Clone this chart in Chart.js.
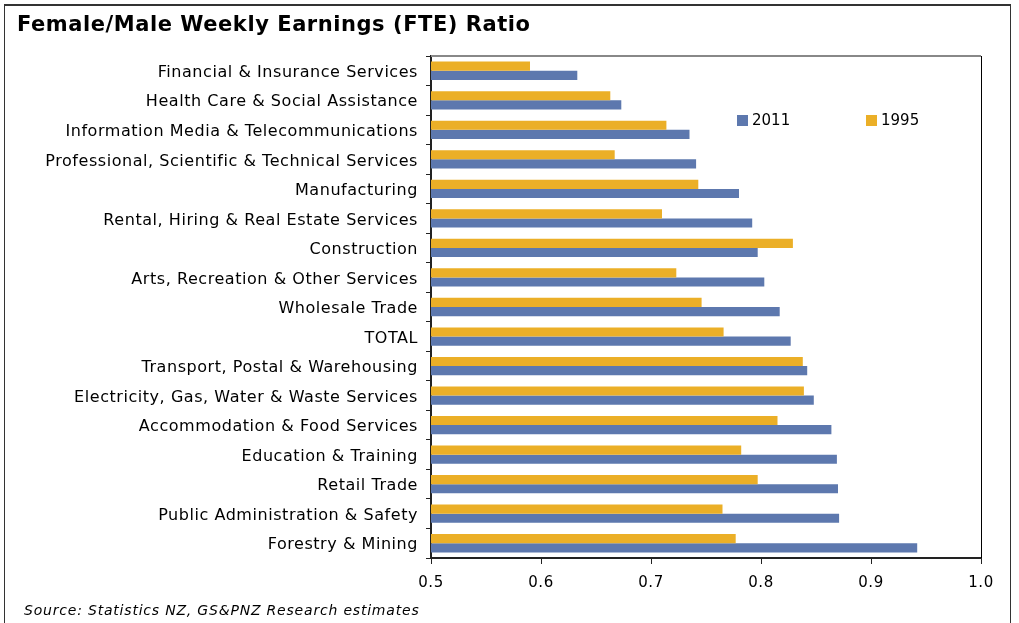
<!DOCTYPE html>
<html>
<head>
<meta charset="utf-8">
<script src="https://cdn.jsdelivr.net/npm/chart.js@4.4.1/dist/chart.umd.min.js"></script>
<style>
  html, body { margin: 0; padding: 0; background: #fff; }
  #wrap { position: relative; width: 1019px; height: 623px; overflow: hidden; }
  #frame { position: absolute; left: 4px; top: 4px; width: 1005px; height: 660px;
           border-top: 2px solid #333; border-left: 1px solid #333; border-right: 1px solid #333; }
  #title { position: absolute; left: 17px; top: 12px; font: bold 21px "DejaVu Sans", sans-serif;
           letter-spacing: 0.55px; color: #000; white-space: nowrap; }
  #source { position: absolute; left: 24px; top: 602px; font: italic 14px "DejaVu Sans", sans-serif;
            letter-spacing: 0.8px; color: #000; white-space: nowrap; }
  #legend { position: absolute; left: 737px; top: 111px; font: 15px "DejaVu Sans", sans-serif; color: #000; }
  #legend span.item { position: absolute; top: 0; white-space: nowrap; }
  #legend i { display: inline-block; width: 11px; height: 11px; margin-right: 4px; vertical-align: -1px; }
  canvas { position: absolute; left: 0; top: 0; }
</style>
</head>
<body>
<div id="wrap">
  <div id="frame"></div>
  <canvas id="chart" width="1019" height="623"></canvas>
  <div id="title">Female/Male Weekly Earnings (FTE) Ratio</div>
  <div id="legend"></div>
  <div id="source">Source: Statistics NZ, GS&amp;PNZ Research estimates</div>
</div>
<script>
// 業種ラベル (上から順に)
const industries = [
    "Financial & Insurance Services",
    "Health Care & Social Assistance",
    "Information Media & Telecommunications",
    "Professional, Scientific & Technical Services",
    "Manufacturing",
    "Rental, Hiring & Real Estate Services",
    "Construction",
    "Arts, Recreation & Other Services",
    "Wholesale Trade",
    "TOTAL",
    "Transport, Postal & Warehousing",
    "Electricity, Gas, Water & Waste Services",
    "Accommodation & Food Services",
    "Education & Training",
    "Retail Trade",
    "Public Administration & Safety",
    "Forestry & Mining"
];
const ratio1995 = [0.590, 0.663, 0.714, 0.667, 0.743, 0.710, 0.829, 0.723, 0.746, 0.766, 0.838, 0.839, 0.815, 0.782, 0.797, 0.765, 0.777];
const ratio2011 = [0.633, 0.673, 0.735, 0.741, 0.780, 0.792, 0.797, 0.803, 0.817, 0.827, 0.842, 0.848, 0.864, 0.869, 0.870, 0.871, 0.942];
const xTicks = [0.5, 0.6, 0.7, 0.8, 0.9, 1.0];

const FONT = "DejaVu Sans";

// Verdana風に少し字間を広げる
const spacing = {
    id: "spacing",
    beforeDraw(chart) {
        chart.ctx.letterSpacing = "0.55px";
    }
};

// プロット枠 (上は灰色、右は黒)
const frameLines = {
    id: "frameLines",
    afterDatasetsDraw(chart) {
        const a = chart.chartArea;
        const ctx = chart.ctx;
        ctx.save();
        ctx.strokeStyle = "#888";
        ctx.lineWidth = 2;
        ctx.beginPath();
        ctx.moveTo(a.left, a.top);
        ctx.lineTo(a.right, a.top);
        ctx.stroke();
        ctx.strokeStyle = "#000";
        ctx.lineWidth = 1;
        ctx.beginPath();
        ctx.moveTo(a.right + 0.5, a.top);
        ctx.lineTo(a.right + 0.5, a.bottom);
        ctx.stroke();
        ctx.restore();
    }
};

const chart = new Chart(document.getElementById("chart"), {
    type: "bar",
    data: {
        labels: industries,
        datasets: [
            { label: "1995", data: ratio1995, backgroundColor: "#ebaf27" },
            { label: "2011", data: ratio2011, backgroundColor: "#5d78ae" }
        ]
    },
    options: {
        indexAxis: "y",
        responsive: false,
        animation: false,
        categoryPercentage: 0.62,
        barPercentage: 1.0,
        layout: { padding: { left: 0, right: 38, top: 56, bottom: 25 } },
        plugins: {
            legend: { display: false },
            tooltip: { enabled: false }
        },
        scales: {
            x: {
                min: 0.5,
                max: 1.0,
                afterBuildTicks(scale) {
                    scale.ticks = xTicks.map(v => ({ value: v }));
                },
                afterFit(scale) { scale.height = 40; },
                grid: { drawOnChartArea: false, drawTicks: true, tickLength: 6, color: "#222", lineWidth: 1 },
                border: { display: true, color: "#222", width: 2 },
                ticks: {
                    color: "#000",
                    padding: 10,
                    font: { family: FONT, size: 15 },
                    callback: v => Number(v).toFixed(1)
                }
            },
            y: {
                afterFit(scale) { scale.width = 431; },
                grid: { drawOnChartArea: false, drawTicks: true, tickLength: 5, color: "#222", offset: true },
                border: { display: true, color: "#222", width: 2 },
                ticks: {
                    color: "#000",
                    padding: 8,
                    labelOffset: 2,
                    autoSkip: false,
                    font: { family: FONT, size: 16 }
                }
            }
        }
    },
    plugins: [spacing, frameLines]
});

// 凡例 (2011 → 1995 の順)
const legend = document.getElementById("legend");
const legendOffsets = [0, 129];
chart.data.datasets.slice().reverse().forEach((ds, i) => {
    const item = document.createElement("span");
    item.className = "item";
    item.style.left = legendOffsets[i] + "px";
    const box = document.createElement("i");
    box.style.background = ds.backgroundColor;
    item.appendChild(box);
    item.appendChild(document.createTextNode(ds.label));
    legend.appendChild(item);
});
</script>
</body>
</html>
